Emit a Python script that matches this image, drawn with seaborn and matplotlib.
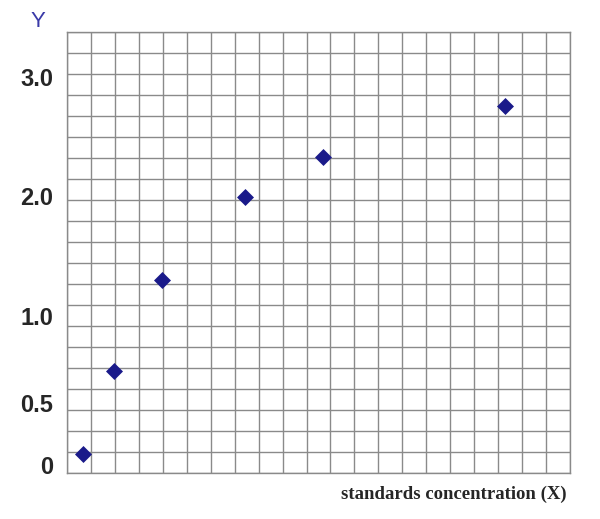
import numpy as np
import pandas as pd
import matplotlib
matplotlib.use("Agg")
import matplotlib.pyplot as plt
import seaborn as sns

# Standards (grid units: 21 x 21 cells)
conc = [0.67, 1.96, 3.97, 7.43, 10.7, 18.3]
signal = [0.9, 4.86, 9.19, 13.14, 15.05, 17.48]

# Y tick labels and where they sit on the grid
ytick_labels = ["0", "0.5", "1.0", "2.0", "3.0"]
ytick_pos = [0.38, 3.33, 7.48, 13.2, 18.86]

df = pd.DataFrame({"x": conc, "y": signal})

sns.set_style("white")
plt.rcParams["font.family"] = ["Liberation Sans", "DejaVu Sans"]

fig = plt.figure(figsize=(6, 5.19), dpi=100)
ax = fig.add_axes([0.1117, 0.0886, 0.8383, 0.8497])

sns.scatterplot(data=df, x="x", y="y", marker="D", s=75, color="#1a1a8a",
                edgecolor="#1a1a8a", linewidth=0, ax=ax, zorder=3)

ax.set_xlim(0, 21)
ax.set_ylim(0, 21)

# grid on minor ticks, labels on major ticks
ax.set_xticks(np.arange(22), minor=True)
ax.set_yticks(np.arange(22), minor=True)
ax.set_xticks([])
ax.set_yticks(ytick_pos)
ax.set_yticklabels(ytick_labels, fontsize=17, fontweight="bold")
ax.tick_params(axis="y", which="major", length=0, pad=10)
ax.tick_params(which="minor", length=0)
ax.grid(True, which="minor", color="#8a8a8a", linewidth=1.0)
ax.grid(False, which="major")
for sp in ax.spines.values():
    sp.set_color("#8a8a8a")
    sp.set_linewidth(1.0)

ax.set_xlabel("")
ax.set_ylabel("")

fig.text(38 / 600, 1 - 22 / 519, "Y", color="#3a3aa8", fontsize=16,
         ha="center", va="center")
fig.text(567 / 600, 1 - 494 / 519, "standards concentration (X)",
         family=["Liberation Serif", "DejaVu Serif"], fontweight="bold",
         fontsize=13.5, ha="right", va="center")

fig.savefig("out.png", dpi=100)
